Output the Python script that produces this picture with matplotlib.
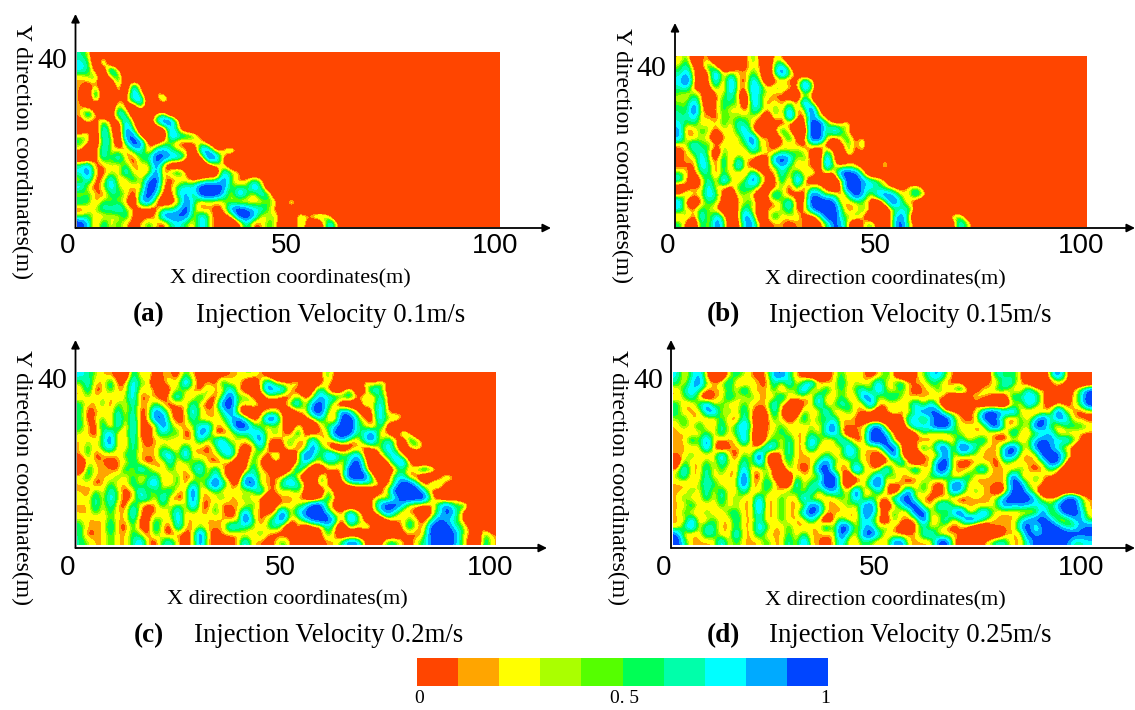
import numpy as np
import matplotlib
matplotlib.use("Agg")
import matplotlib.pyplot as plt
from matplotlib.colors import ListedColormap, BoundaryNorm
from matplotlib.transforms import ScaledTranslation

# Phase fraction, in tenths (0 = red ... 9 = blue); rows top to bottom.
field_a = [
"54030","650600","652083004","345036","323005062","307004083042","3060032770262","320005206000005",
"373007500034","23252273006983","03073084000273","44074088200086652","530650598224422342",
"3027342562675430872462","00264732559877402982","57234352438300000243","68324373338256300007440004",
"3723733637932332344842353","7324743339823566999745484","35325542596226749996385374",
"65254430783023853434423335326","23465743222546942323897664202","4533436222388883742239973440053553",
"9626353235325643742002623530052027302",
]
field_b = [
"350330003252043000004","4622630032430573","57303835335305852","6930372832740232274","5622252833763544285",
"4353034630844230042","4473035540752425284","54932353426535372493","557332544443052932842",
"645343536532022302995335","723542435730036300994853","73343034368340362299424524",
"34745343448332333244202525","23564053335533545420630523005","33374262633028973520830220003",
"232752628320347433308434320252","53255253327323636352329984","63036384358522628402003997653",
"0233733255530342525420399665432353","35347520443037422287452597378743652",
"720354203450234722999833442049632","63354300363233462379995235320456304",
"2527374038 5036344224 9954530004 8500400452","5206385027 7223323302 4873035204 9522000065 2",
]
field_c = [
"6 5 4 3 3 2 0 6 3 4 2 3 3 2 5 3 2 3 2 2 3 3 4 4 3 2 0 0 0 0 0 0 2 5 2 3",
"4 6 3 3 6 2 3 7 4 4 0 3 4 3 8 4 2 3 2 6 3 4 2 0 3 7 4 3 3 5 0 0 2 4 2 0 0 0 5 2 5 3",
"3 6 2 3 5 3 3 7 3 4 3 0 3 4 4 3 2 5 3 3 7 3 2 0 3 8 7 7 3 2 0 2 6 3 0 2 5 0 2 7 5 2",
"3 4 3 4 3 3 4 7 2 3 3 2 4 7 3 3 6 3 2 5 9 4 5 3 0 3 3 2 2 5 2 4 7 6 6 5 6 3 4 2 6 3",
"5 3 3 5 2 5 3 6 3 3 5 3 2 3 3 6 3 2 3 8 9 4 3 5 3 2 2 2 5 7 3 7 9 5 3 0 0 0 5 3 7 3",
"5 2 3 3 3 6 3 6 2 3 8 6 3 2 3 7 4 3 3 5 8 3 0 0 2 3 4 2 0 3 3 8 9 4 3 8 6 3 0 3 7 3 2 3",
"5 2 3 5 2 7 3 7 2 3 8 8 3 2 3 6 3 3 3 4 6 8 5 2 3 9 8 3 0 2 2 3 6 3 2 9 9 5 3 2 7 4 5 3",
"5 3 2 6 2 7 2 7 2 2 3 8 5 3 3 4 6 7 3 3 5 9 9 5 4 3 4 3 0 4 2 0 3 5 6 9 9 5 4 2 6 2 0 0",
"4 3 2 5 7 3 3 7 2 2 4 6 4 5 2 3 8 6 2 2 3 5 5 6 7 3 5 3 2 6 2 2 3 3 9 9 9 4 6 8 3 3 0 6 3",
"3 4 3 5 8 3 3 6 3 2 3 3 4 3 3 3 6 3 6 7 3 4 3 5 8 3 2 3 5 3 3 7 3 3 4 7 3 3 6 8 3 6 4 0 6 4 2",
"3 5 3 5 7 3 3 6 3 3 3 5 3 3 6 3 3 2 4 7 6 3 2 2 6 3 0 2 5 2 3 8 5 3 0 0 2 3 2 3 4 7 4 0 3 5 2",
"3 5 2 3 3 3 5 5 3 3 3 6 7 3 8 3 3 3 3 5 7 3 0 5 4 2 6 2 0 3 9 7 3 8 7 5 5 7 2 0 3 5 7 3 0 0",
"0 4 3 3 2 3 3 6 3 2 3 3 6 3 4 4 5 3 2 3 3 0 2 5 3 0 3 2 0 3 7 4 4 5 5 3 6 9 4 0 0 3 6 8 3 0 0",
"0 6 3 3 3 2 6 3 7 5 3 3 5 3 3 5 7 3 6 3 2 0 2 6 3 3 0 0 2 7 4 0 0 3 3 3 9 9 5 0 0 0 3 5 3 5 7 5 2 0",
"4 5 3 3 3 5 3 5 3 4 6 3 3 5 2 3 5 3 7 3 2 0 7 6 4 3 3 3 6 3 0 0 5 3 0 4 9 9 9 4 0 2 5 6 2 2 0 0 2 5 3",
"3 4 2 3 5 3 3 6 3 6 7 3 3 5 2 6 3 6 9 6 3 2 8 9 3 3 2 6 7 6 3 0 5 3 0 2 4 5 5 5 3 2 5 9 9 5 2 5 5 2 2",
"3 2 5 3 6 4 2 3 7 3 5 4 6 3 3 9 3 3 5 3 3 4 3 4 7 3 3 4 3 5 2 0 0 5 2 0 0 0 0 0 2 4 9 9 9 9 5 2 2 0",
"4 3 6 3 7 4 2 3 6 6 3 7 3 2 3 8 3 3 3 5 3 3 5 3 3 0 2 3 3 3 2 0 2 6 3 0 0 0 2 3 4 3 5 9 9 9 9 3 2 0 3",
"3 3 6 3 6 3 2 6 3 2 3 5 3 5 3 8 3 2 5 2 3 3 3 5 3 0 2 3 3 4 5 9 9 3 2 0 0 0 0 3 7 9 9 6 3 3 2 3 6 8 4 6 3",
"3 3 5 3 5 3 3 7 3 2 3 3 4 7 3 4 3 3 5 3 2 3 8 3 3 2 3 9 3 6 8 9 9 6 3 3 7 4 2 2 5 8 5 3 3 2 0 3 5 9 6 3",
"4 3 3 3 5 3 3 6 2 2 5 4 3 7 3 3 4 3 3 3 3 3 9 5 2 4 6 8 3 3 6 8 9 9 6 2 8 5 2 0 0 3 3 3 5 3 2 5 8 6 5 3 0 3",
"5 3 3 3 6 3 2 5 2 2 6 3 2 7 3 3 4 3 3 3 7 6 5 4 3 4 6 3 0 4 0 2 2 6 3 0 5 3 5 4 0 0 2 3 6 3 3 9 9 9 5 5 2 4 2",
"5 2 3 3 5 3 3 5 4 2 5 3 2 3 2 3 9 3 2 3 3 3 3 3 5 3 2 2 2 2 3 2 2 5 3 0 0 0 0 0 0 0 0 2 3 2 4 9 9 9 8 4 3 0 5 3",
"5 4 3 3 5 3 3 5 7 3 2 5 6 3 2 3 8 3 2 2 2 3 7 3 3 2 3 5 3 0 0 2 2 3 3 5 8 7 3 0 2 5 5 3 2 4 5 8 9 9 7 4 2 0 6 3",
]
field_d = [
"6357300454 3237853200 2353432353 0034674300 3036453000 584",
"5 3 6 8 4 3 4 6 3 2 4 3 2 6 3 7 3 5 8 3 3 3 6 3 4 3 4 7 3 4 6 3 3 3 5 4 3 2 3 0 0 2 3 3 7 5 3 2 0 0 2 3 3",
"3 5 7 5 3 3 3 5 3 7 3 3 3 5 2 4 4 8 3 3 6 3 5 3 5 6 3 8 4 3 5 3 2 3 3 5 3 5 6 3 2 4 3 6 4 3 3 6 4 3 3 3 0 3 5 8",
"3 4 6 3 0 3 3 6 4 3 5 3 3 3 7 3 4 3 3 7 3 3 5 3 3 8 7 3 5 6 4 3 3 3 3 3 3 0 0 2 4 3 3 0 2 6 5 7 6 3 0 2 2 3 5 9",
"5 3 3 5 8 3 5 3 3 5 3 3 3 7 3 2 0 3 3 7 3 4 6 5 3 3 8 3 3 3 3 4 7 3 7 3 0 0 0 0 3 0 0 0 0 4 3 7 5 3 2 3 2 3 5 9",
"5 3 3 3 7 8 3 5 3 6 3 2 2 6 3 0 0 5 3 3 7 3 3 5 3 3 3 0 3 5 3 3 6 8 8 8 3 3 2 3 3 7 9 8 7 8 3 3 2 3 3 9 4 3 2 3",
"4 5 3 3 3 3 5 3 2 6 3 0 2 5 3 2 3 6 3 5 4 6 3 3 3 0 0 0 0 0 2 6 6 3 6 9 9 5 3 2 3 8 9 6 3 2 5 3 6 9 5 7 7 3 3 2",
"3 5 3 6 3 3 6 3 5 8 4 0 3 3 5 3 4 3 4 3 6 8 3 3 3 3 7 8 3 0 0 5 7 6 7 9 9 5 3 4 3 3 8 9 3 3 5 3 9 8 4 3 5 5 5 4",
"3 3 3 3 5 3 6 3 5 6 3 0 3 4 5 4 3 3 5 3 6 7 4 0 3 3 8 9 6 3 0 0 2 5 3 3 3 5 4 3 3 3 3 2 3 7 3 3 4 5 7 3 3 3 3 3",
"3 3 6 4 8 3 3 3 3 8 3 0 3 5 3 6 3 3 7 5 3 3 7 5 2 3 9 9 9 3 2 2 3 2 3 4 3 3 6 3 5 6 3 3 2 3 3 4 7 8 7 6 7 5 3 0",
"3 3 3 3 8 3 0 3 3 3 3 3 7 7 3 6 3 3 7 3 3 4 3 7 5 3 3 3 8 9 3 0 3 6 3 8 8 3 9 8 5 3 3 3 7 9 5 3 8 9 7 5 3 2 0 0",
"3 3 5 3 3 3 8 3 2 5 3 9 3 0 3 6 3 3 3 3 5 3 4 7 5 3 3 2 3 9 3 0 0 3 3 3 8 3 5 4 4 3 3 3 8 8 3 3 3 9 9 8 5 3 0 0",
"0 5 3 3 5 3 6 4 3 6 3 8 3 0 3 5 3 3 3 5 8 5 3 3 5 3 3 0 2 3 7 3 0 3 3 8 9 3 2 2 3 3 3 2 5 3 3 3 3 4 9 8 3 0 0 0",
"3 7 3 3 6 3 5 3 3 7 3 3 5 2 0 5 3 2 3 8 9 3 3 3 9 4 3 3 8 3 3 4 7 3 3 9 8 3 3 3 5 7 3 3 3 3 5 3 2 3 5 3 0 0 0 2",
"4 6 3 3 6 3 4 3 3 9 3 2 5 2 0 0 5 3 4 3 9 9 3 0 3 3 4 8 3 5 3 3 3 3 5 5 5 3 3 6 3 3 3 3 3 9 3 3 5 3 3 2 0 0 0 3",
"3 3 3 4 6 5 3 3 4 9 3 3 6 4 2 0 7 3 5 6 9 9 3 0 3 3 7 9 3 3 3 2 3 5 3 2 3 8 8 3 3 3 3 3 3 9 8 3 4 3 0 0 0 0 0 0",
"3 3 5 3 6 3 6 3 3 6 3 3 5 3 3 5 5 3 7 3 6 7 5 3 9 3 3 6 3 0 3 8 3 5 3 2 3 8 6 3 5 3 3 0 3 8 9 5 3 0 0 0 0 0 0 0",
"3 5 3 3 6 3 6 3 5 3 3 7 3 3 5 3 3 8 3 3 3 3 5 3 8 3 5 3 3 6 8 9 3 3 2 3 3 3 2 3 3 3 3 5 8 9 9 9 6 3 3 3 8 9 5 3",
"3 3 6 3 3 3 5 3 4 3 3 8 3 3 5 3 3 3 8 7 3 3 3 5 3 7 8 3 0 3 5 8 9 3 3 6 7 4 3 3 3 3 3 5 8 6 7 6 6 6 4 8 9 9 5 3",
"3 5 3 3 5 3 3 5 5 3 3 7 3 3 5 3 3 7 9 7 3 3 3 3 3 7 8 3 3 5 3 3 9 9 3 5 3 7 9 3 4 8 5 3 3 3 3 3 3 8 3 5 9 9 7 3",
"3 3 7 3 3 5 3 3 6 3 3 6 3 3 5 3 3 3 6 3 0 3 5 3 3 7 5 3 0 5 3 3 3 9 3 3 7 3 5 9 8 5 3 3 3 3 5 7 9 8 7 3 3 6 7 4",
"3 5 8 3 6 5 3 3 5 3 3 7 5 3 3 5 3 3 3 3 7 3 9 8 3 6 7 3 5 3 2 0 3 5 3 5 3 2 3 2 0 0 3 3 3 3 7 9 3 9 9 8 5 4 7 8",
"8 3 3 3 6 5 3 3 7 3 3 6 3 3 3 5 3 5 3 3 3 3 9 5 3 8 9 6 3 3 2 3 3 6 7 3 3 3 3 2 0 0 0 0 3 3 3 9 7 7 8 9 9 9 8 8",
"9 5 3 3 3 3 7 3 5 3 3 3 5 3 3 6 3 8 3 3 2 3 7 3 3 5 4 3 3 7 8 3 3 3 3 8 9 3 2 0 0 3 4 6 5 3 3 6 8 9 9 9 8 5 5 6",
]
panel_fields = [field_a, field_b, field_c, field_d]

x_ticks = [0, 50, 100]
y_ticks = [40]
x_label = "X direction coordinates(m)"
y_label = "Y direction coordinates(m)"
letters = ["(a)", "(b)", "(c)", "(d)"]
captions = ["Injection Velocity 0.1m/s", "Injection Velocity 0.15m/s",
            "Injection Velocity 0.2m/s", "Injection Velocity 0.25m/s"]
band_colors = ["#FF4500", "#FFA500", "#FFFF00", "#AAFF00", "#55FF00",
               "#00FF55", "#00FFAA", "#00FFFF", "#00AAFF", "#0045FF"]
band_limits = [-3, 2.85, 3.15, 3.8, 4.1, 4.4, 4.9, 5.5, 6.3, 7.3, 12]
bar_levels = [0, .1, .2, .3, .4, .5, .6, .7, .8, .9]
bar_ticks = ["0", "0. 5", "1"]

W, H = 1135, 710
plt.rcParams["font.family"] = ["Liberation Sans", "DejaVu Sans"]
fig = plt.figure(figsize=(W / 100, H / 100), dpi=100)
cmap = ListedColormap(band_colors)
norm = BoundaryNorm(band_limits, cmap.N)

# left, right, top, bottom of image; axis line x,y; arrow tips
geom = [
    dict(l=77, r=500, t=52, b=227, ax=75.5, ay=228, tx=551, ty=14, off=[-9, -2, -5], yoff=6, pad=4,
         xl=(290, 279), yl=(22, 152), let=(149, 315), cap=(196, 315)),
    dict(l=676, r=1087, t=56, b=227, ax=675, ay=228, tx=1135, ty=23, off=[-8, -6, -6], yoff=10, pad=4,
         xl=(885, 280), yl=(622, 156), let=(723, 315), cap=(769, 315)),
    dict(l=77, r=496, t=372, b=545, ax=75.5, ay=548, tx=547, ty=340, off=[-9, -6, -6], yoff=6, pad=7,
         xl=(287, 600), yl=(22, 477), let=(149, 636), cap=(194, 636)),
    dict(l=673, r=1092, t=372, b=545, ax=671, ay=548, tx=1135, ty=340, off=[-9, -8, -11], yoff=6, pad=7,
         xl=(885, 601), yl=(618, 477), let=(723, 636), cap=(769, 636)),
]

def to_grid(rows):
    return np.array([[int(c) for c in r.replace(" ", "").ljust(56, "0")[:56]] for r in rows], dtype=float)

for g, rows, let, cap in zip(geom, panel_fields, letters, captions):
    ax = fig.add_axes([g["l"] / W, 1 - g["b"] / H, (g["r"] - g["l"]) / W, (g["b"] - g["t"]) / H])
    ax.imshow(to_grid(rows), extent=[0, 100, 0, 40], origin="upper", aspect="auto", cmap=cmap, norm=norm,
              interpolation="bicubic", interpolation_stage="data")
    ax.set_xlim(0, 100)
    ax.set_ylim(0, 40)
    for s in ax.spines.values():
        s.set_visible(False)
    ax.set_xticks(x_ticks)
    ax.set_yticks(y_ticks)
    ax.tick_params(length=0, labelsize=20, pad=g["pad"])
    ax.tick_params(axis="y", pad=7, labelsize=21.5)
    for lab, dx in zip(ax.get_xticklabels(), g["off"]):
        lab.set_transform(lab.get_transform() + ScaledTranslation(dx / 100, 0, fig.dpi_scale_trans))
    for lab in ax.get_yticklabels():
        lab.set_family("Liberation Serif")
        lab.set_transform(lab.get_transform() + ScaledTranslation(0, -g["yoff"] / 100, fig.dpi_scale_trans))
    # arrows of the two axes
    for tip in ((g["tx"], g["ay"]), (g["ax"], g["ty"])):
        fig.add_artist(matplotlib.patches.FancyArrowPatch(
            (g["ax"] / W, 1 - g["ay"] / H), (tip[0] / W, 1 - tip[1] / H), transform=fig.transFigure,
            arrowstyle="-|>,head_length=3,head_width=1.5", mutation_scale=1.6, lw=1.3, color="black",
            shrinkA=0, shrinkB=0))
    fig.text(g["xl"][0] / W, 1 - g["xl"][1] / H, x_label, family="Liberation Serif", fontsize=16,
             ha="center", va="center")
    fig.text(g["yl"][0] / W, 1 - g["yl"][1] / H, y_label, family="Liberation Serif", fontsize=17,
             ha="center", va="center", rotation=-90)
    fig.text(g["let"][0] / W, 1 - g["let"][1] / H, let, family="Liberation Serif", fontsize=19.5,
             fontweight="bold", ha="center", va="center")
    fig.text(g["cap"][0] / W, 1 - g["cap"][1] / H, cap, family="Liberation Serif", fontsize=19.3,
             ha="left", va="center")

# colour key
cax = fig.add_axes([417 / W, 1 - 686 / H, 411 / W, 28 / H])
cax.pcolormesh(np.linspace(0, 1, 11), [0, 1], np.array([bar_levels]), cmap=cmap,
               norm=BoundaryNorm(np.linspace(0, 1, 11) - 0.001, cmap.N))
cax.set_xlim(0, 1)
cax.set_yticks([])
for s in cax.spines.values():
    s.set_visible(False)
cax.set_xticks([0, 0.5, 1])
cax.set_xticklabels(bar_ticks, family="Liberation Serif", fontsize=14)
cax.tick_params(length=0, pad=3)
for lab, dx in zip(cax.get_xticklabels(), [2, 2, -3]):
    lab.set_transform(lab.get_transform() + ScaledTranslation(dx / 100, 0, fig.dpi_scale_trans))

fig.savefig("out.png", dpi=100)
